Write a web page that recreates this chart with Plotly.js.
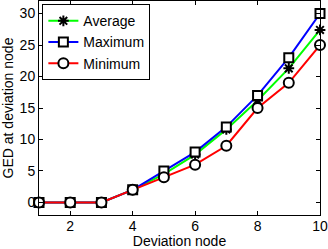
<!DOCTYPE html>
<html>
<head>
<meta charset="utf-8">
<script src="https://cdn.plot.ly/plotly-3.0.1.min.js"></script>
<style>html,body{margin:0;padding:0;background:#fff;}#chart{width:328px;height:249px;}</style>
</head>
<body>
<div id="chart"></div>
<script>
const nodes = [1, 2, 3, 4, 5, 6, 7, 8, 9, 10];
const averageGED = [0, 0, 0, 2, 4.5, 7.6, 11.6, 16.2, 21.3, 27.4];
const maximumGED = [0, 0, 0, 2, 5, 8, 12, 17, 23, 30];
const minimumGED = [0, 0, 0, 2, 4, 6, 9, 15, 19, 25];
const xTicks = [2, 4, 6, 8, 10];
const yTicks = [0, 5, 10, 15, 20, 25, 30];

const FONT = 'Liberation Sans, Arial, sans-serif';

const traces = [
  {x: nodes, y: averageGED, name: 'Average', mode: 'lines+markers', cliponaxis: false,
   line: {color: '#00ff00', width: 2},
   marker: {symbol: 'asterisk-open', size: 9, color: '#000', line: {color: '#000', width: 2}}},
  {x: nodes, y: maximumGED, name: 'Maximum', mode: 'lines+markers', cliponaxis: false,
   line: {color: '#0000ff', width: 2},
   marker: {symbol: 'square', size: 9, color: '#fff', line: {color: '#000', width: 2}}},
  {x: nodes, y: minimumGED, name: 'Minimum', mode: 'lines+markers', cliponaxis: false,
   line: {color: '#ff0000', width: 2},
   marker: {symbol: 'circle', size: 10, color: '#fff', line: {color: '#000', width: 2}}}
];

const axisCommon = {
  showline: true, linecolor: '#000', linewidth: 1, mirror: 'ticks',
  ticks: 'inside', ticklen: 4, tickcolor: '#000', showgrid: false, zeroline: false,
  tickfont: {family: FONT, size: 14, color: '#000'}, automargin: false
};

const layout = {
  width: 328, height: 249,
  margin: {l: 39, r: 8, t: 1, b: 34},
  paper_bgcolor: '#fff', plot_bgcolor: '#fff',
  showlegend: true,
  legend: {x: 0.012, y: 0.985, xanchor: 'left', yanchor: 'top',
    bgcolor: '#fff', bordercolor: '#000', borderwidth: 1,
    font: {family: FONT, size: 14, color: '#000'},
    tracegroupgap: 0, itemwidth: 30},
  xaxis: Object.assign({}, axisCommon, {range: [1, 10], tickvals: xTicks, ticklabelstandoff: -2,
    title: {text: 'Deviation node', font: {family: FONT, size: 14, color: '#000'}}}),
  yaxis: Object.assign({}, axisCommon, {range: [-2, 32], tickvals: yTicks,
    title: {text: 'GED at deviation node', font: {family: FONT, size: 14, color: '#000'}}})
};

Plotly.newPlot('chart', traces, layout, {staticPlot: true, displayModeBar: false});
</script>
</body>
</html>
